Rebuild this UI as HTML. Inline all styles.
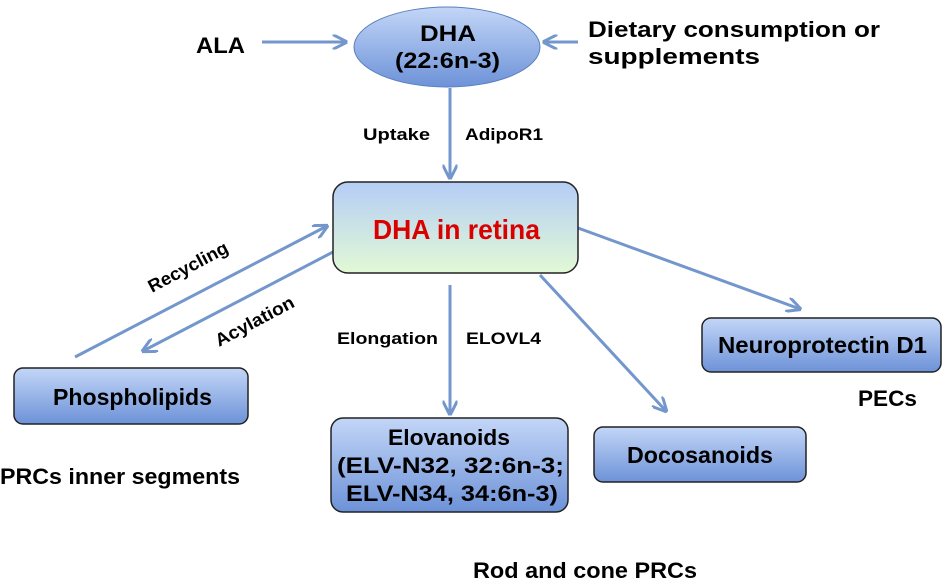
<!DOCTYPE html>
<html><head><style>
body{margin:0;background:#fff;}
svg text{font-family:"Liberation Sans",Arial,sans-serif;font-weight:bold;fill:#000;}
</style></head><body>
<svg width="948" height="579" viewBox="0 0 948 579" xmlns="http://www.w3.org/2000/svg">
<defs>
<linearGradient id="b" x1="0" y1="0" x2="0" y2="1"><stop offset="0" stop-color="#c3d6f7"/><stop offset="1" stop-color="#6d92d8"/></linearGradient>
<linearGradient id="g" x1="0" y1="0" x2="0" y2="1"><stop offset="0" stop-color="#b5cdf5"/><stop offset="1" stop-color="#e2f9d6"/></linearGradient>
<marker id="a" viewBox="0 0 10 10" refX="9" refY="5" markerWidth="5" markerHeight="5" orient="auto"><path d="M0,0 L10,5 L0,10" fill="none" stroke="#7397cc" stroke-width="2"/></marker>
</defs>
<g stroke="#7397cc" stroke-width="3" fill="none" marker-end="url(#a)">
<line x1="262" y1="42" x2="346" y2="42"/>
<line x1="578" y1="42" x2="544" y2="42"/>
<line x1="450" y1="88" x2="450" y2="178"/>
<line x1="75" y1="357" x2="327" y2="226"/>
<line x1="333" y1="252" x2="143" y2="351"/>
<line x1="450" y1="285" x2="450" y2="414"/>
<line x1="540" y1="275" x2="666" y2="411"/>
<line x1="578" y1="228" x2="800" y2="309"/>
</g>
<ellipse cx="447" cy="47" rx="93" ry="40" fill="url(#b)" stroke="#5a7fbf" stroke-width="1"/>
<text x="420" y="41" font-size="22" textLength="56" lengthAdjust="spacingAndGlyphs">DHA</text>
<text x="395" y="68" font-size="22" textLength="105" lengthAdjust="spacingAndGlyphs">(22:6n-3)</text>
<text x="196" y="53" font-size="22" textLength="49" lengthAdjust="spacingAndGlyphs">ALA</text>
<text x="588" y="37" font-size="22" textLength="292" lengthAdjust="spacingAndGlyphs">Dietary consumption or</text>
<text x="588" y="64" font-size="22" textLength="172" lengthAdjust="spacingAndGlyphs">supplements</text>
<text x="363" y="140" font-size="17" textLength="67" lengthAdjust="spacingAndGlyphs">Uptake</text>
<text x="465" y="140" font-size="17" textLength="78" lengthAdjust="spacingAndGlyphs">AdipoR1</text>
<rect x="333" y="182" width="245" height="91" rx="15" fill="url(#g)" stroke="#222" stroke-width="1.5"/>
<text x="373" y="239" font-size="28" textLength="167" lengthAdjust="spacingAndGlyphs" style="fill:#d90000">DHA in retina</text>
<text transform="translate(152,293) rotate(-28)" font-size="18" textLength="88" lengthAdjust="spacingAndGlyphs">Recycling</text>
<text transform="translate(219,347) rotate(-28)" font-size="18" textLength="87" lengthAdjust="spacingAndGlyphs">Acylation</text>
<rect x="14" y="368" width="234" height="56" rx="9" fill="url(#b)" stroke="#222" stroke-width="1.5"/>
<text x="53" y="405" font-size="23" textLength="159" lengthAdjust="spacingAndGlyphs">Phospholipids</text>
<text x="0" y="484" font-size="22" textLength="240" lengthAdjust="spacingAndGlyphs">PRCs inner segments</text>
<text x="337" y="344" font-size="17" textLength="101" lengthAdjust="spacingAndGlyphs">Elongation</text>
<text x="466" y="344" font-size="17" textLength="75" lengthAdjust="spacingAndGlyphs">ELOVL4</text>
<rect x="331" y="418" width="237" height="94" rx="12" fill="url(#b)" stroke="#222" stroke-width="1.5"/>
<text x="388" y="445" font-size="22" textLength="122" lengthAdjust="spacingAndGlyphs">Elovanoids</text>
<text x="337" y="473" font-size="22" textLength="227" lengthAdjust="spacingAndGlyphs">(ELV-N32, 32:6n-3;</text>
<text x="346" y="501" font-size="22" textLength="212" lengthAdjust="spacingAndGlyphs">ELV-N34, 34:6n-3)</text>
<rect x="594" y="427" width="212" height="55" rx="9" fill="url(#b)" stroke="#222" stroke-width="1.5"/>
<text x="627" y="463" font-size="23" textLength="146" lengthAdjust="spacingAndGlyphs">Docosanoids</text>
<rect x="702" y="318" width="239" height="54" rx="9" fill="url(#b)" stroke="#222" stroke-width="1.5"/>
<text x="718" y="353" font-size="23" textLength="209" lengthAdjust="spacingAndGlyphs">Neuroprotectin D1</text>
<text x="858" y="406" font-size="22" textLength="59" lengthAdjust="spacingAndGlyphs">PECs</text>
<text x="473" y="578" font-size="22" textLength="224" lengthAdjust="spacingAndGlyphs">Rod and cone PRCs</text>
</svg>
</body></html>
